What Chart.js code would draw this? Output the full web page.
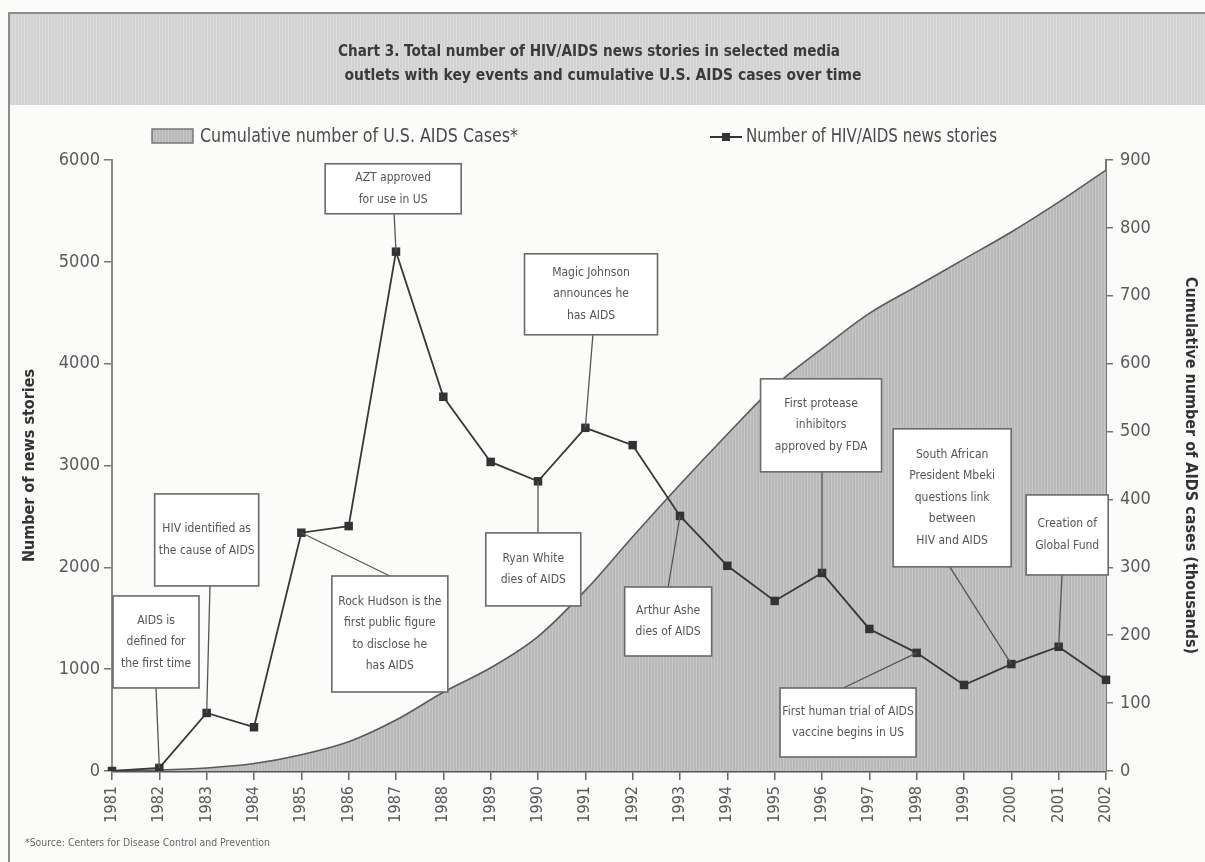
<!DOCTYPE html>
<html>
<head>
<meta charset="utf-8">
<script src="https://cdn.jsdelivr.net/npm/chart.js@4.4.1/dist/chart.umd.min.js"></script>
<style>
html, body { margin: 0; padding: 0; background: #fbfbfa; }
#wrap { position: relative; width: 1205px; height: 862px; }
</style>
</head>
<body>
<div id="wrap"><canvas id="chartNews"></canvas></div>
<script>
// data
const years = ['1981','1982','1983','1984','1985','1986','1987','1988','1989','1990','1991',
               '1992','1993','1994','1995','1996','1997','1998','1999','2000','2001','2002'];
const newsStories = [0, 30, 570, 430, 2340, 2405, 5100, 3675, 3035, 2845, 3370,
                     3200, 2505, 2015, 1670, 1945, 1395, 1160, 845, 1050, 1220, 895];
// cumulative U.S. AIDS cases, thousands
const aidsCases = [0.3, 1.5, 4.5, 11, 24, 43, 75, 116, 152, 198, 266,
                   345, 422, 496, 567, 622, 674, 714, 754, 794, 838, 885];
const storyTicks = [0, 1000, 2000, 3000, 4000, 5000, 6000];
const caseTicks = [0, 100, 200, 300, 400, 500, 600, 700, 800, 900];

const eventYears = ['1982', '1983', '1987', '1985', '1991', '1990', '1993', '1996', '1998', '2000', '2001'];
const eventNotes = [
    ['AIDS is', 'defined for', 'the first time'],
    ['HIV identified as', 'the cause of AIDS'],
    ['AZT approved', 'for use in US'],
    ['Rock Hudson is the', 'first public figure', 'to disclose he', 'has AIDS'],
    ['Magic Johnson', 'announces he', 'has AIDS'],
    ['Ryan White', 'dies of AIDS'],
    ['Arthur Ashe', 'dies of AIDS'],
    ['First protease', 'inhibitors', 'approved by FDA'],
    ['First human trial of AIDS', 'vaccine begins in US'],
    ['South African', 'President Mbeki', 'questions link', 'between', 'HIV and AIDS'],
    ['Creation of', 'Global Fund']
];

const titleLines = [
    'Chart 3. Total number of HIV/AIDS news stories in selected media',
    'outlets with key events and cumulative U.S. AIDS cases over time'
];

// note box placement: cx/ax in category index units, top in story units, w/h in px
const noteLayout = [
    {cx: 0.93, top: 1719, w: 86, h: 92, side: 'bottom', ax: 0.93},
    {cx: 2.0, top: 2721, w: 104, h: 92, side: 'bottom', ax: 2.07},
    {cx: 5.94, top: 5963, w: 136, h: 50, side: 'bottom', ax: 5.96},
    {cx: 5.87, top: 1915, w: 116, h: 116, side: 'top', ax: 5.87},
    {cx: 10.12, top: 5079, w: 133, h: 81, side: 'bottom', ax: 10.16},
    {cx: 8.9, top: 2338, w: 95, h: 73, side: 'top', ax: 9.0},
    {cx: 11.75, top: 1807, w: 87, h: 69, side: 'top', ax: 11.75},
    {cx: 14.98, top: 3851, w: 121, h: 93, side: 'bottom', ax: 15.0},
    {cx: 15.55, top: 815, w: 136, h: 69, side: 'top', ax: 15.45},
    {cx: 17.75, top: 3360, w: 118, h: 138, side: 'bottom', ax: 17.7},
    {cx: 20.18, top: 2711, w: 82, h: 80, side: 'bottom', ax: 20.07}
];

const FONT = "'Liberation Sans Narrow', 'DejaVu Sans Condensed', 'Liberation Sans', sans-serif";
Chart.defaults.font.family = FONT;

// printed-screen look for the area and the header band
function stripePattern(base, stripe, w) {
    const c = document.createElement('canvas');
    c.width = w; c.height = 4;
    const g = c.getContext('2d');
    g.fillStyle = base; g.fillRect(0, 0, w, 4);
    g.fillStyle = stripe; g.fillRect(0, 0, 1, 4);
    return document.getElementById('chartNews').getContext('2d').createPattern(c, 'repeat');
}
const areaFill = stripePattern('#b9b9b9', '#c7c7c7', 3);
const bandFill = stripePattern('#d2d2d2', '#dcdcdc', 3);

// draws text squeezed or stretched to a given width
function fitText(ctx, text, x, y, width, align) {
    const m = ctx.measureText(text).width;
    const sx = width / m;
    ctx.save();
    ctx.translate(x, y);
    ctx.scale(sx, 1);
    ctx.textAlign = align;
    ctx.fillText(text, 0, 0);
    ctx.restore();
}

const pageDecor = {
    id: 'pageDecor',
    beforeDraw(chart) {
        const {ctx, width, height} = chart;
        ctx.save();
        ctx.fillStyle = '#fbfbfa';
        ctx.fillRect(0, 0, width, height);
        ctx.fillStyle = bandFill;
        ctx.fillRect(9, 13, width - 9, 92);
        ctx.strokeStyle = '#8c8c8c';
        ctx.lineWidth = 2;
        ctx.beginPath();
        ctx.moveTo(9, height); ctx.lineTo(9, 13); ctx.lineTo(width, 13);
        ctx.stroke();

        // title
        ctx.fillStyle = '#3a3a3a';
        ctx.textBaseline = 'middle';
        ctx.font = 'bold 16px ' + FONT;
        fitText(ctx, titleLines[0], 589, 52, 502, 'center');
        fitText(ctx, titleLines[1], 603, 76, 517, 'center');

        // legend
        ctx.fillStyle = areaFill;
        ctx.fillRect(152, 129, 41, 14);
        ctx.strokeStyle = '#777';
        ctx.lineWidth = 1.5;
        ctx.strokeRect(152, 129, 41, 14);
        ctx.fillStyle = '#4a4a4a';
        ctx.font = '19px ' + FONT;
        fitText(ctx, 'Cumulative number of U.S. AIDS Cases*', 200, 137, 318, 'left');
        ctx.strokeStyle = '#333';
        ctx.lineWidth = 2;
        ctx.beginPath(); ctx.moveTo(710, 137); ctx.lineTo(742, 137); ctx.stroke();
        ctx.fillStyle = '#333';
        ctx.fillRect(722, 133, 8, 8);
        ctx.fillStyle = '#4a4a4a';
        fitText(ctx, 'Number of HIV/AIDS news stories', 746, 137, 251, 'left');

        // footnote
        ctx.fillStyle = '#666';
        ctx.font = '10px ' + FONT;
        fitText(ctx, '*Source: Centers for Disease Control and Prevention', 25, 843, 245, 'left');
        ctx.restore();
    }
};

const eventNotesPlugin = {
    id: 'eventNotes',
    afterDatasetsDraw(chart) {
        const {ctx, scales: {x, y}} = chart;
        ctx.save();
        eventNotes.forEach((lines, i) => {
            const box = noteLayout[i];
            const idx = years.indexOf(eventYears[i]);
            const px = x.getPixelForValue(idx);
            const py = y.getPixelForValue(newsStories[idx]);
            const cx = x.getPixelForValue(box.cx);
            const top = y.getPixelForValue(box.top);
            const left = cx - box.w / 2;
            const ax = x.getPixelForValue(box.ax);
            const ay = box.side === 'top' ? top : top + box.h;

            // leader line to the marker
            ctx.strokeStyle = '#555';
            ctx.lineWidth = 1.3;
            ctx.beginPath(); ctx.moveTo(ax, ay); ctx.lineTo(px, py); ctx.stroke();

            ctx.fillStyle = '#fff';
            ctx.fillRect(left, top, box.w, box.h);
            ctx.strokeStyle = '#6a6a6a';
            ctx.lineWidth = 1.6;
            ctx.strokeRect(left, top, box.w, box.h);

            ctx.fillStyle = '#555';
            ctx.font = '12px ' + FONT;
            ctx.textAlign = 'center';
            ctx.textBaseline = 'middle';
            const lh = 21.5;
            const y0 = top + box.h / 2 - (lines.length - 1) * lh / 2;
            lines.forEach((t, k) => ctx.fillText(t, cx, y0 + k * lh));
        });
        ctx.restore();
    }
};

const plainNumber = v => String(v);

const ctxNews = document.getElementById('chartNews').getContext('2d');
new Chart(ctxNews, {
    type: 'line',
    data: {
        labels: years,
        datasets: [
            {
                label: 'Number of HIV/AIDS news stories',
                data: newsStories,
                yAxisID: 'y',
                borderColor: '#383838',
                borderWidth: 1.8,
                pointStyle: 'rect',
                pointRadius: 6,
                pointBackgroundColor: '#333',
                pointBorderWidth: 0,
                tension: 0,
                order: 0
            },
            {
                label: 'Cumulative number of U.S. AIDS Cases*',
                data: aidsCases,
                yAxisID: 'y1',
                borderColor: '#5a5a5a',
                borderWidth: 1.6,
                backgroundColor: areaFill,
                fill: 'origin',
                pointRadius: 0,
                cubicInterpolationMode: 'monotone',
                order: 1
            }
        ]
    },
    options: {
        responsive: true,
        maintainAspectRatio: false,
        animation: false,
        events: [],
        layout: {padding: {left: 20, right: 5, top: 160, bottom: 40}},
        plugins: {
            legend: {display: false},
            tooltip: {enabled: false}
        },
        scales: {
            x: {
                type: 'category',
                offset: false,
                z: 1,
                grid: {drawOnChartArea: false, drawTicks: true, tickLength: 9, color: '#666', lineWidth: 1.5},
                border: {display: true, color: '#555', width: 2.5},
                ticks: {
                    minRotation: 90,
                    maxRotation: 90,
                    autoSkip: false,
                    padding: 6,
                    color: '#5a5a5a',
                    font: {size: 16}
                },
                afterFit(scale) { scale.height = 51; }
            },
            y: {
                position: 'left',
                min: 0,
                max: 6000,
                afterBuildTicks(scale) { scale.ticks = storyTicks.map(v => ({value: v})); },
                grid: {drawOnChartArea: false, tickLength: 8, color: '#777', lineWidth: 1.5},
                border: {color: '#8a8a8a', width: 2},
                ticks: {padding: 4, color: '#5a5a5a', font: {size: 18}, callback: plainNumber},
                title: {
                    display: true,
                    text: 'Number of news stories',
                    color: '#333',
                    font: {size: 16, weight: 'bold'},
                    padding: {top: 0, bottom: 6}
                },
                afterFit(scale) { scale.width = 92; }
            },
            y1: {
                position: 'right',
                min: 0,
                max: 900,
                z: 1,
                afterBuildTicks(scale) { scale.ticks = caseTicks.map(v => ({value: v})); },
                grid: {drawOnChartArea: false, tickLength: 7, color: '#777', lineWidth: 1.5},
                border: {color: '#777', width: 2},
                ticks: {padding: 7, color: '#5a5a5a', font: {size: 18}, callback: plainNumber},
                title: {
                    display: true,
                    text: 'Cumulative number of AIDS cases (thousands)',
                    color: '#333',
                    font: {size: 16, weight: 'bold'},
                    padding: {top: 0, bottom: 6}
                },
                afterFit(scale) { scale.width = 94; }
            }
        }
    },
    plugins: [pageDecor, eventNotesPlugin]
});
</script>
</body>
</html>
